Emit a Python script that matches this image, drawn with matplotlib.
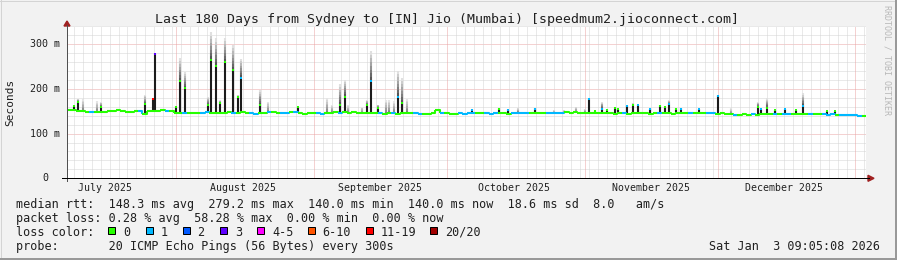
import numpy as np
import pandas as pd
import matplotlib
matplotlib.use("Agg")
import matplotlib.pyplot as plt
import matplotlib.dates as mdates
from matplotlib.lines import Line2D
from matplotlib.patches import Polygon, Rectangle
from matplotlib.colors import to_rgb

W, H = 897, 260
START = pd.Timestamp("2025-07-07 09:05:08")
END = pd.Timestamp("2026-01-03 09:05:08")

# median rtt per day (ms), day 0 = START
median_daily = [
    153, 152, 151, 150, 149, 149, 148, 149, 149, 150,
    151, 152, 151, 149, 148, 150, 151, 145, 150, 151,
    151, 152, 151, 150, 147, 147, 146, 146, 147, 147,
    147, 148, 147, 147, 146, 147, 148, 147, 147, 148,
    147, 146, 145, 147, 147, 148, 148, 147, 146, 147,
    148, 148, 147, 145, 146, 146, 147, 145, 146, 147,
    148, 147, 148, 147, 148, 147, 146, 146, 147, 146,
    146, 145, 146, 146, 145, 146, 146, 147, 146, 145,
    144, 145, 146, 153, 147, 146, 145, 145, 146, 145,
    146, 147, 146, 146, 146, 145, 146, 147, 146, 145,
    146, 147, 146, 146, 147, 147, 146, 146, 147, 146,
    147, 147, 148, 147, 148, 147, 147, 146, 146, 146,
    146, 146, 146, 145, 146, 146, 145, 146, 146, 146,
    146, 145, 146, 146, 146, 146, 145, 146, 146, 146,
    146, 146, 147, 146, 146, 146, 145, 146, 144, 143,
    141, 142, 143, 142, 143, 142, 144, 143, 144, 144,
    144, 143, 144, 144, 144, 143, 143, 144, 143, 143,
    143, 142, 143, 142, 142, 141, 141, 141, 140, 140,
]
# loss class per day (0 = no loss, 1 = one of 20)
loss_daily = [
    0, 0, 0, 0, 0, 1, 0, 0, 0, 0,
    0, 0, 0, 0, 0, 0, 1, 0, 0, 0,
    0, 0, 1, 0, 0, 0, 1, 0, 0, 0,
    1, 1, 0, 0, 0, 0, 0, 1, 0, 0,
    0, 1, 1, 0, 0, 1, 0, 0, 1, 1,
    0, 1, 0, 0, 0, 0, 1, 1, 0, 0,
    0, 1, 0, 0, 0, 0, 0, 0, 0, 0,
    1, 0, 0, 1, 0, 0, 0, 0, 1, 1,
    0, 0, 0, 0, 1, 0, 0, 0, 1, 1,
    1, 1, 0, 0, 1, 1, 1, 0, 0, 0,
    1, 1, 1, 1, 0, 0, 0, 0, 1, 1,
    1, 1, 0, 0, 0, 0, 0, 0, 0, 0,
    0, 0, 0, 0, 0, 1, 0, 0, 0, 0,
    0, 0, 0, 1, 0, 0, 0, 0, 0, 0,
    1, 0, 0, 0, 1, 1, 0, 0, 0, 0,
    1, 0, 0, 0, 1, 0, 0, 0, 0, 1,
    0, 1, 1, 0, 0, 0, 0, 1, 0, 0,
    1, 1, 1, 0, 1, 1, 1, 1, 1, 0,
]

# median spikes: time, median (ms), max ping (ms), loss class
spike_times = [
    "2025-07-08 23:00", "2025-07-09 22:00", "2025-07-14 23:00", "2025-07-24 23:00",
    "2025-07-26 20:00", "2025-07-27 05:00", "2025-08-01 00:30", "2025-08-01 20:00",
    "2025-08-02 23:00", "2025-08-08 05:00", "2025-08-08 18:00", "2025-08-09 23:00",
    "2025-08-10 20:00", "2025-08-11 22:00", "2025-08-13 20:00", "2025-08-14 20:00",
    "2025-08-15 14:00", "2025-08-19 21:00", "2025-08-28 12:00", "2025-09-06 21:00",
    "2025-09-08 00:00", "2025-09-12 22:00", "2025-09-13 21:00", "2025-09-15 12:00",
    "2025-09-19 22:00", "2025-09-20 19:00", "2025-10-06 14:00", "2025-10-12 19:00",
    "2025-10-14 19:00", "2025-10-20 21:00", "2025-11-01 21:00", "2025-11-03 10:00",
    "2025-11-04 22:00", "2025-11-06 00:00", "2025-11-07 22:00", "2025-11-08 14:00",
    "2025-11-10 12:00", "2025-11-11 19:00", "2025-11-13 02:00", "2025-11-15 19:00",
    "2025-11-17 22:00", "2025-11-19 00:00", "2025-11-20 00:00", "2025-11-21 14:00",
    "2025-11-22 19:00", "2025-11-26 19:00", "2025-11-30 23:00", "2025-12-10 00:00",
    "2025-12-10 19:00", "2025-12-12 02:00", "2025-12-13 22:00", "2025-12-16 04:00",
    "2025-12-18 14:00", "2025-12-20 04:00", "2025-12-25 14:00", "2025-12-27 07:00",
]
spike_median = [
    161, 171, 160, 166, 177, 279, 160, 218, 203, 165, 265, 252, 168, 261,
    242, 183, 225, 164, 159, 165, 183, 164, 218, 158, 183, 169, 153, 156,
    153, 156, 177, 150, 156, 153, 158, 155, 162, 164, 164, 155, 162, 160,
    166, 156, 156, 155, 185, 160, 155, 158, 152, 155, 152, 162, 150, 150,
]
spike_max = [
    165, 178, 170, 186, 177, 281, 162, 269, 239, 183, 327, 313, 175, 315,
    298, 186, 268, 198, 162, 210, 220, 175, 285, 165, 240, 224, 155, 157,
    155, 157, 180, 152, 171, 155, 160, 156, 165, 168, 165, 156, 165, 161,
    175, 157, 157, 156, 187, 171, 156, 179, 153, 156, 153, 190, 151, 151,
]
spike_loss = [
    0, 0, 0, 0, 6, 3, 0, 0, 0, 0, 0, 0, 0, 0,
    0, 0, 1, 0, 0, 0, 0, 0, 1, 0, 1, 0, 1, 0,
    1, 1, 1, 0, 1, 0, 0, 0, 1, 0, 1, 1, 0, 0,
    1, 0, 1, 1, 1, 0, 1, 0, 0, 1, 0, 1, 0, 0,
]

# smoke only (median stays on the baseline)
smoke_times = [
    "2025-07-10 22:00", "2025-07-14 02:00", "2025-08-21 18:00", "2025-09-03 22:00",
    "2025-09-05 00:00", "2025-09-08 18:00", "2025-09-11 19:00", "2025-09-17 05:00",
    "2025-09-18 00:00", "2025-09-19 01:00", "2025-09-21 22:00", "2025-10-17 02:00",
    "2025-10-25 00:00", "2025-10-27 07:00", "2025-10-30 03:00", "2025-11-01 02:00",
    "2025-12-04 00:00",
]
smoke_max = [177, 172, 171, 180, 165, 165, 160, 175, 175, 172, 178, 158,
             153, 153, 160, 156, 157]

loss_labels = ["0", "1", "2", "3", "4-5", "6-10", "11-19", "20/20"]
loss_colors = ["#26ff00", "#00b8ff", "#0059ff", "#5e00ff",
               "#ff00ff", "#ff5500", "#ff0000", "#a10000"]
month_labels = ["July 2025", "August 2025", "September 2025",
                "October 2025", "November 2025", "December 2025"]

MONO = "DejaVu Sans Mono"
PX = 0.72  # one pixel in points at dpi 100


def fx(x):
    return x / W


def fy(y):
    return 1 - y / H


fig = plt.figure(figsize=(W / 100, H / 100), dpi=100, facecolor="#f2f2f2")
ax = fig.add_axes([fx(67), fy(178.3), (866 - 67) / W, (178.3 - 26.4) / H])
ax.set_facecolor("white")
for s in ax.spines.values():
    s.set_visible(False)
ax.set_xticks([])
ax.set_yticks([])
t0, t1 = mdates.date2num(START), mdates.date2num(END)
ax.set_xlim(t0, t1)
ax.set_ylim(0, 340)

# grid
dot = (0, (1, 1))
for v in range(20, 341, 20):
    major = v % 100 == 0
    ax.axhline(v, color="#eaa4a4" if major else "#d4d4d4", lw=PX, ls=dot, zorder=1)
month_starts = pd.date_range("2025-08-01", "2026-01-01", freq="MS")
for d in pd.date_range("2025-07-07", "2026-01-03", freq="2D"):
    if d not in month_starts:
        ax.axvline(mdates.date2num(d), color="#d4d4d4", lw=PX, ls=dot, zorder=1)
for d in month_starts:
    ax.axvline(mdates.date2num(d), color="#eaa4a4", lw=PX, ls=dot, zorder=1)

days = mdates.date2num(pd.date_range(START, periods=len(median_daily), freq="D"))


def base_at(t):
    i = int(t - t0)
    return median_daily[min(max(i, 0), len(median_daily) - 1)]


def smoke(t, lo, hi, c0, c1, n=8):
    if hi <= lo:
        return
    edges = np.linspace(lo, hi, n + 1)
    a, b = np.array(to_rgb(c0)), np.array(to_rgb(c1))
    for k in range(n):
        c = tuple(a + (b - a) * k / (n - 1))
        ax.plot([t, t], [edges[k], edges[k + 1]], color=c, lw=1.5,
                solid_capstyle="butt", zorder=2)


for ts, mx in zip(smoke_times, smoke_max):
    t = mdates.date2num(pd.Timestamp(ts))
    smoke(t, base_at(t), mx, "#808080", "#e4e4e4")

for ts, md, mx in zip(spike_times, spike_median, spike_max):
    t = mdates.date2num(pd.Timestamp(ts))
    smoke(t, md, mx, "#555555", "#e0e0e0")
    ax.plot([t, t], [base_at(t), md], color="#1c1c1c", lw=1.5,
            solid_capstyle="butt", zorder=3)

# median line coloured by loss, one step per day
for i, v in enumerate(median_daily):
    c = loss_colors[loss_daily[i]]
    ta, tb = days[i], days[i] + 1
    xs, ys = [ta, tb], [v, v]
    if i + 1 < len(median_daily):
        xs.append(tb)
        ys.append(median_daily[i + 1])
    ax.plot(xs, ys, color=c, lw=1.5, solid_capstyle="butt", zorder=4)

for ts, md, ls in zip(spike_times, spike_median, spike_loss):
    t = mdates.date2num(pd.Timestamp(ts))
    ax.plot([t], [md], marker="s", ms=2.0, mew=0, color=loss_colors[ls], zorder=5)

# axes lines and arrows
fig.add_artist(Line2D([fx(67), fx(67)], [fy(181), fy(25)], color="#505050",
                      lw=PX, transform=fig.transFigure))
fig.add_artist(Line2D([fx(62), fx(869)], [fy(178.3), fy(178.3)], color="black",
                      lw=PX, transform=fig.transFigure))
fig.add_artist(Polygon([(fx(64), fy(26)), (fx(70), fy(26)), (fx(67), fy(21))],
                       closed=True, color="#a02020", transform=fig.transFigure))
fig.add_artist(Polygon([(fx(868), fy(175.3)), (fx(868), fy(181.3)), (fx(874), fy(178.3))],
                       closed=True, color="#a02020", transform=fig.transFigure))

# y tick labels
for v, lab, x in [(100, "100 m", 60), (200, "200 m", 60), (300, "300 m", 60), (0, "0", 48)]:
    fig.text(fx(x), fy(178.3 - v * 0.4467), lab, ha="right", va="center",
             family=MONO, fontsize=7.2, color="#202020")

# month labels centred on the 16th of each month
for i, lab in enumerate(month_labels):
    t = mdates.date2num(pd.Timestamp(2025, 7 + i, 16))
    xp = 67 + (t - t0) / (t1 - t0) * (866 - 67)
    fig.text(fx(xp), fy(187.8), lab, ha="center", va="center",
             family=MONO, fontsize=7.1, color="#202020")

fig.text(0.5 * (fx(157) + fx(737)), fy(19),
         "Last 180 Days from Sydney to [IN] Jio (Mumbai) [speedmum2.jioconnect.com]",
         ha="center", va="center", family=MONO, fontsize=9.5, color="#202020")
fig.text(fx(10.5), fy(102), "Seconds", rotation=90, ha="center", va="center",
         family=MONO, fontsize=8, color="#202020")
fig.text(fx(887), fy(5), "RRDTOOL / TOBI OETIKER", rotation=270, ha="center", va="top",
         family=MONO, fontsize=6, color="#b8b8b8")

fs = 8.5
rows = [
    "median rtt:  148.3 ms avg  279.2 ms max  140.0 ms min  140.0 ms now  18.6 ms sd  8.0   am/s",
    "packet loss: 0.28 % avg  58.28 % max  0.00 % min  0.00 % now",
    "loss color:",
    "probe:       20 ICMP Echo Pings (56 Bytes) every 300s",
]
for k, r in enumerate(rows):
    fig.text(fx(16), fy(204.3 + 14 * k), r, ha="left", va="center",
             family=MONO, fontsize=fs, color="#202020")

sq_x = [108.3, 145.7, 182.7, 220, 257.3, 307.7, 365.7, 430]
for x, c, lab in zip(sq_x, loss_colors, loss_labels):
    fig.add_artist(Rectangle((fx(x), fy(234)), 7 / W, 7 / H, facecolor=c,
                             edgecolor="black", lw=PX, transform=fig.transFigure))
    fig.text(fx(x + 14.7), fy(232.3), lab, ha="left", va="center",
             family=MONO, fontsize=fs, color="#202020")

fig.text(fx(880), fy(246.3), "Sat Jan  3 09:05:08 2026", ha="right", va="center",
         family=MONO, fontsize=fs, color="#202020")

# shaded frame
fig.add_artist(Line2D([0, 1], [fy(0.5), fy(0.5)], color="#d4d4d4", lw=PX, transform=fig.transFigure))
fig.add_artist(Line2D([fx(0.5), fx(0.5)], [0, 1], color="#d4d4d4", lw=PX, transform=fig.transFigure))
fig.add_artist(Line2D([0, 1], [fy(259), fy(259)], color="#999999", lw=2 * PX, transform=fig.transFigure))
fig.add_artist(Line2D([fx(896), fx(896)], [0, 1], color="#999999", lw=2 * PX, transform=fig.transFigure))

fig.savefig("out.png", dpi=100, facecolor=fig.get_facecolor())
